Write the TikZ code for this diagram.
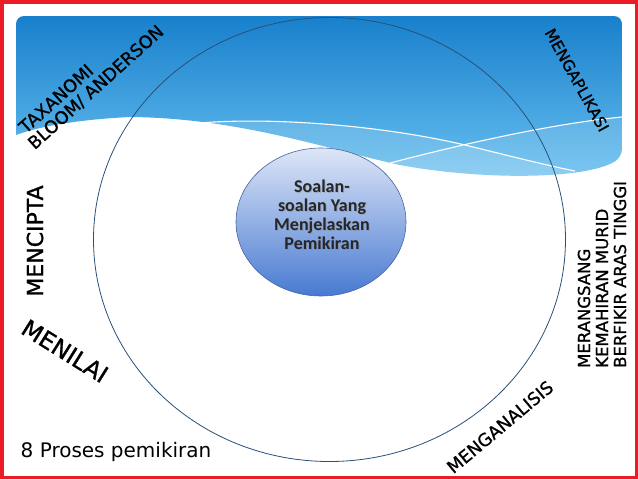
\documentclass[tikz,border=0pt]{standalone}
\usepackage{fontspec}
\setmainfont{DejaVu Sans}
\newfontfamily\comicf[FakeBold=1]{DejaVu Sans}
\newfontfamily\calib[BoldFont=Carlito Bold]{Carlito}
\usetikzlibrary{shapes.geometric}
\definecolor{hdrtop}{RGB}{24,128,204}
\definecolor{hdrbot}{RGB}{105,192,240}
\definecolor{framered}{RGB}{236,28,36}
\definecolor{ringcol}{RGB}{40,80,120}
\definecolor{coretop}{RGB}{222,230,247}
\definecolor{corebot}{RGB}{72,122,210}
\definecolor{coreline}{RGB}{70,100,160}
\begin{document}
\begin{tikzpicture}[x=1pt,y=-1pt,
  lab/.style={font=\comicf\fontsize{#1}{#1}\selectfont, inner sep=0pt, text=black},
  wline/.style={draw=white, line width=1.1pt},
  band/.style={fill=white, fill opacity=#1}]
\useasboundingbox (0,0) rectangle (638,479);
\fill[white] (0,0) rectangle (638,479);
% header
\shade[top color=hdrtop, bottom color=hdrbot]
  (16,135) {[rounded corners=8] -- (16,16) -- (622,16) -- (622,157)}
  .. controls (585,180) and (480,180) .. (400,165)
  .. controls (330,150) and (240,118) .. (130,117)
  .. controls (70,120) and (35,128) .. (16,135) -- cycle;
\fill[band=0.15] (200,123) .. controls (270,117) and (380,125) .. (465,145)
  .. controls (510,156) and (545,165) .. (575,171) -- (575,200) -- (200,200) -- cycle;
\fill[band=0.13] (390,163) .. controls (440,150) and (540,125) .. (622,117)
  -- (622,200) -- (390,200) -- cycle;
\draw[wline] (200,123) .. controls (270,117) and (380,125) .. (465,145)
  .. controls (510,156) and (545,165) .. (575,171);
\draw[wline] (390,163) .. controls (440,150) and (540,125) .. (622,117);
% frame
\draw[framered, line width=3.5pt] (1.75,1.75) rectangle (636.25,477.25);
% rings
\node[ellipse, draw=ringcol, line width=0.8pt, minimum width=472pt, minimum height=444pt, inner sep=0pt] (outer) at (329.5,239.5) {};
\node[ellipse, draw=coreline, line width=0.6pt, top color=coretop, bottom color=corebot, minimum width=170pt, minimum height=148pt, inner sep=0pt] (core) at (321,222) {};
\node[font=\calib\bfseries\fontsize{18}{19}\selectfont, align=center, text=gray, opacity=0.35, inner sep=0pt] (coreshadow) at (323,215.5) {Soalan-\\soalan Yang\\Menjelaskan\\Pemikiran};
\node[font=\calib\bfseries\fontsize{18}{19}\selectfont, align=center, text=black!85, inner sep=0pt] (coretext) at (322,214.5) {Soalan-\\soalan Yang\\Menjelaskan\\Pemikiran};
% labels
\node[lab=17.5, rotate=42] (tax1) at (56,98.5) {TAXANOMI};
\node[lab=17.5, rotate=42] (tax2) at (96,87.5) {BLOOM/ ANDERSON};
\node[lab=15.5, rotate=-61] (apply) at (577,80) {MENGAPLIKASI};
\node[lab=22, rotate=90] (create) at (35,241) {MENCIPTA};
\node[lab=23.5, rotate=-32] (evaluate) at (65,351) {MENILAI};
\node[lab=17.5, rotate=40] (analyse) at (500,427) {MENGANALISIS};
\node[lab=16.5, rotate=90, anchor=base west] (r1) at (590,368) {MERANGSANG};
\node[lab=16.5, rotate=90, anchor=base west] (r2) at (608,368) {KEMAHIRAN MURID};
\node[lab=16.5, rotate=90, anchor=base west] (r3) at (626,368) {BERFIKIR ARAS TINGGI};
\node[font=\fontsize{20}{20}\selectfont, inner sep=0pt, anchor=base west] (count) at (20.5,457.5) {8 Proses pemikiran};
\end{tikzpicture}
\end{document}
